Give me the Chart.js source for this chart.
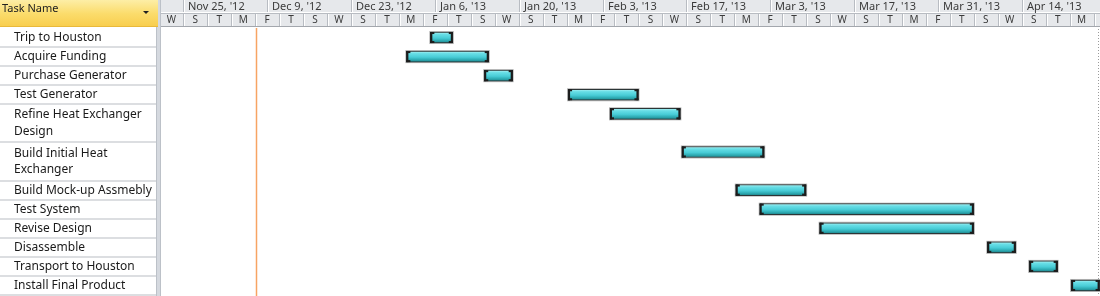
<!DOCTYPE html>
<html>
<head>
<meta charset="utf-8">
<script src="https://cdn.jsdelivr.net/npm/chart.js@4.4.1/dist/chart.umd.min.js"></script>
<style>
  html, body { margin: 0; padding: 0; background: #fff; }
  #wrap { width: 1100px; height: 296px; }
</style>
</head>
<body>
<div id="wrap"><canvas id="gantt" width="1100" height="296"></canvas></div>
<script>
// tasks (wrapped names as arrays of lines, like in the project sheet)
const taskNames = [
  'Trip to Houston',
  'Acquire Funding',
  'Purchase Generator',
  'Test Generator',
  ['Refine Heat Exchanger', 'Design'],
  ['Build Initial Heat', 'Exchanger'],
  'Build Mock-up Assmebly',
  'Test System',
  'Revise Design',
  'Disassemble',
  'Transport to Houston',
  'Install Final Product'
];
const taskStart = ['2013-01-05T06:00', '2013-01-01T06:00', '2013-01-14T06:00', '2013-01-28T06:00',
                   '2013-02-04T06:00', '2013-02-16T06:00', '2013-02-25T06:00', '2013-03-01T06:00',
                   '2013-03-11T06:00', '2013-04-08T06:00', '2013-04-15T06:00', '2013-04-22T06:00'];
const taskEnd   = ['2013-01-09', '2013-01-15', '2013-01-19', '2013-02-09', '2013-02-16', '2013-03-02',
                   '2013-03-09', '2013-04-06', '2013-04-06', '2013-04-13', '2013-04-20', '2013-04-27'];

// timescale
const topTierDates  = ['2012-11-25', '2012-12-09', '2012-12-23', '2013-01-06', '2013-01-20', '2013-02-03',
                       '2013-02-17', '2013-03-03', '2013-03-17', '2013-03-31', '2013-04-14'];
const topTierLabels = ["Nov 25, '12", "Dec 9, '12", "Dec 23, '12", "Jan 6, '13", "Jan 20, '13", "Feb 3, '13",
                       "Feb 17, '13", "Mar 3, '13", "Mar 17, '13", "Mar 31, '13", "Apr 14, '13"];
const bottomTierStart = '2012-11-21';
const bottomTierDays = 4;
const bottomTierLabels = ['W',
  'S','T','M','F','T','S','W', 'S','T','M','F','T','S','W', 'S','T','M','F','T','S','W',
  'S','T','M','F','T','S','W', 'S','T','M','F','T','S','W', 'S','T','M','F'];

const viewStart = '2012-11-21T06:40';
const viewEnd = '2013-04-27T01:40';
const statusDate = '2012-12-07T04:00';

const origin = Date.parse('2012-11-25T00:00Z');
function dayOf(s) {
  return (Date.parse(s.length === 10 ? s + 'T00:00Z' : s + 'Z') - origin) / 864e5;
}

// one slot per text line, bar sits on the first line of its task
const slotLabels = [];
const slotValues = [];
const rows = [];
taskNames.forEach((name, i) => {
  const lines = Array.isArray(name) ? name : [name];
  rows.push({ first: slotLabels.length, lines: lines });
  lines.forEach((l, k) => {
    slotLabels.push(l);
    slotValues.push(k === 0 ? [dayOf(taskStart[i]), dayOf(taskEnd[i])] : null);
  });
});

const LEFT_W = 156;
const SPLIT_R = 161;
const HEAD_H = 27;

function barGradient(ctx) {
  const chart = ctx.chart;
  if (!chart.chartArea) return '#55d3db';
  const y = chart.scales.y.getPixelForValue(ctx.dataIndex);
  const g = chart.ctx.createLinearGradient(0, y - 5.5, 0, y + 5.5);
  g.addColorStop(0, '#b2f3f5');
  g.addColorStop(0.22, '#68dee6');
  g.addColorStop(0.55, '#48ccd6');
  g.addColorStop(0.82, '#2aa5ad');
  g.addColorStop(1, '#1d7c83');
  return g;
}

function barBox(bar) {
  const p = bar.getProps(['x', 'y', 'base', 'height'], true);
  const l = Math.min(p.x, p.base), r = Math.max(p.x, p.base);
  return { l: l, r: r, t: p.y - p.height / 2, b: p.y + p.height / 2 };
}

const projectFrame = {
  id: 'projectFrame',
  beforeDatasetsDraw(chart) {
    const { ctx, chartArea, scales: { x } } = chart;
    ctx.save();
    // status date line
    const sx = Math.round(x.getPixelForValue(dayOf(statusDate))) + 0.5;
    ctx.strokeStyle = '#f7a463';
    ctx.lineWidth = 1.5;
    ctx.beginPath();
    ctx.moveTo(sx, chartArea.top);
    ctx.lineTo(sx, chartArea.bottom + 2);
    ctx.stroke();
    // page break
    ctx.strokeStyle = '#9a9a9a';
    ctx.lineWidth = 1;
    ctx.setLineDash([1, 2]);
    ctx.beginPath();
    ctx.moveTo(chartArea.right - 1.5, chartArea.top + 1);
    ctx.lineTo(chartArea.right - 1.5, chartArea.bottom + 2);
    ctx.stroke();
    ctx.setLineDash([]);
    // halo behind bars
    ctx.fillStyle = '#b4b4b4';
    chart.getDatasetMeta(0).data.forEach((bar, i) => {
      if (!slotValues[i]) return;
      const b = barBox(bar);
      ctx.fillRect(b.l - 1, b.t - 1, b.r - b.l + 2, b.b - b.t + 2);
    });
    ctx.restore();
  },
  afterDatasetsDraw(chart) {
    const { ctx } = chart;
    ctx.save();
    ctx.fillStyle = '#1c1c1c';
    chart.getDatasetMeta(0).data.forEach((bar, i) => {
      if (!slotValues[i]) return;
      const b = barBox(bar);
      const h = b.b - b.t;
      ctx.fillRect(b.l, b.t, 2, h);
      ctx.fillRect(b.l, b.t, 4, 2);
      ctx.fillRect(b.l, b.b - 2, 4, 2);
      ctx.fillRect(b.r - 2, b.t, 2, h);
      ctx.fillRect(b.r - 4, b.t, 4, 2);
      ctx.fillRect(b.r - 4, b.b - 2, 4, 2);
    });
    ctx.restore();
  },
  afterDraw(chart) {
    const { ctx, chartArea, scales: { x, y } } = chart;
    const W = chart.width, H = chart.height;
    ctx.save();

    // ---- task sheet
    ctx.fillStyle = '#ffffff';
    ctx.fillRect(0, HEAD_H, LEFT_W, H - HEAD_H);
    ctx.font = '12px "Noto Sans", sans-serif';
    ctx.textBaseline = 'middle';
    ctx.textAlign = 'left';
    rows.forEach(row => {
      const n = row.lines.length;
      const top = y.getPixelForValue(row.first - 0.5);
      const bot = y.getPixelForValue(row.first + n - 0.5);
      const mid = (top + bot) / 2;
      ctx.fillStyle = '#1a1a1a';
      row.lines.forEach((l, k) => {
        ctx.fillText(l, 14, mid + (k - (n - 1) / 2) * 16.6);
      });
      ctx.fillStyle = '#dcdee1';
      ctx.fillRect(0, Math.round(bot) - 1, LEFT_W, 2);
    });

    // splitter
    ctx.fillStyle = '#d5d9df';
    ctx.fillRect(LEFT_W, 0, SPLIT_R - LEFT_W, H);
    ctx.fillStyle = '#bcc1c8';
    ctx.fillRect(LEFT_W, 0, 1, H);
    ctx.fillRect(SPLIT_R - 1, 0, 1, H);

    // sheet header
    const yg = ctx.createLinearGradient(0, 0, 0, HEAD_H);
    yg.addColorStop(0, '#fdeea6');
    yg.addColorStop(0.5, '#fbdc6c');
    yg.addColorStop(1, '#f8cd4c');
    ctx.fillStyle = yg;
    ctx.fillRect(0, 0, 158, HEAD_H);
    ctx.fillStyle = '#e9b93a';
    ctx.fillRect(0, HEAD_H - 1, 158, 1);
    ctx.fillStyle = '#202020';
    ctx.font = '11px "Noto Sans", sans-serif';
    ctx.fillText('Task Name', 2, 9);
    ctx.beginPath();
    ctx.moveTo(143, 11);
    ctx.lineTo(149, 11);
    ctx.lineTo(146, 14);
    ctx.closePath();
    ctx.fill();

    // ---- timescale
    const tsL = SPLIT_R, tsR = W;
    ctx.fillStyle = '#e6e8eb';
    ctx.fillRect(tsL, 0, tsR - tsL, HEAD_H);
    ctx.fillStyle = '#ffffff';
    ctx.fillRect(tsL, 12, tsR - tsL, 1);
    ctx.fillStyle = '#b8bcc2';
    ctx.fillRect(tsL, 13, tsR - tsL, 1);
    ctx.fillStyle = '#a3a7ad';
    ctx.fillRect(tsL, HEAD_H - 1, tsR - tsL, 1);

    ctx.beginPath();
    ctx.rect(tsL, 0, tsR - tsL, HEAD_H);
    ctx.clip();

    ctx.font = '11px "Noto Sans", sans-serif';
    ctx.textAlign = 'left';
    topTierDates.forEach((d, i) => {
      const px = Math.round(x.getPixelForValue(dayOf(d)));
      ctx.fillStyle = '#b8bcc2';
      ctx.fillRect(px, 0, 1, 12);
      ctx.fillStyle = '#ffffff';
      ctx.fillRect(px + 1, 0, 1, 12);
      ctx.fillStyle = '#3a3a3a';
      ctx.fillText(topTierLabels[i], px + 5, 6.5);
    });

    const b0 = dayOf(bottomTierStart);
    ctx.font = '10px "Noto Sans", sans-serif';
    ctx.textAlign = 'center';
    bottomTierLabels.forEach((lab, i) => {
      const p0 = x.getPixelForValue(b0 + i * bottomTierDays);
      const p1 = x.getPixelForValue(b0 + (i + 1) * bottomTierDays);
      const px = Math.round(p0);
      ctx.fillStyle = '#b8bcc2';
      ctx.fillRect(px, 14, 1, HEAD_H - 15);
      ctx.fillStyle = '#ffffff';
      ctx.fillRect(px + 1, 14, 1, HEAD_H - 15);
      if (p1 - Math.max(p0, tsL) > 12) {
        ctx.fillStyle = '#3a3a3a';
        ctx.fillText(lab, (p0 + p1) / 2, 20.5);
      }
    });
    ctx.restore();
  }
};

new Chart(document.getElementById('gantt'), {
  type: 'bar',
  data: {
    labels: slotLabels,
    datasets: [{
      data: slotValues,
      backgroundColor: barGradient,
      borderColor: '#2c3536',
      borderWidth: 1,
      borderSkipped: false,
      barThickness: 11
    }]
  },
  options: {
    indexAxis: 'y',
    responsive: false,
    animation: false,
    layout: { padding: { left: SPLIT_R, top: HEAD_H + 1, right: 0, bottom: 1 } },
    scales: {
      x: { type: 'linear', min: dayOf(viewStart), max: dayOf(viewEnd), display: false },
      y: { display: false }
    },
    plugins: {
      legend: { display: false },
      tooltip: { enabled: false }
    }
  },
  plugins: [projectFrame]
});
</script>
</body>
</html>
